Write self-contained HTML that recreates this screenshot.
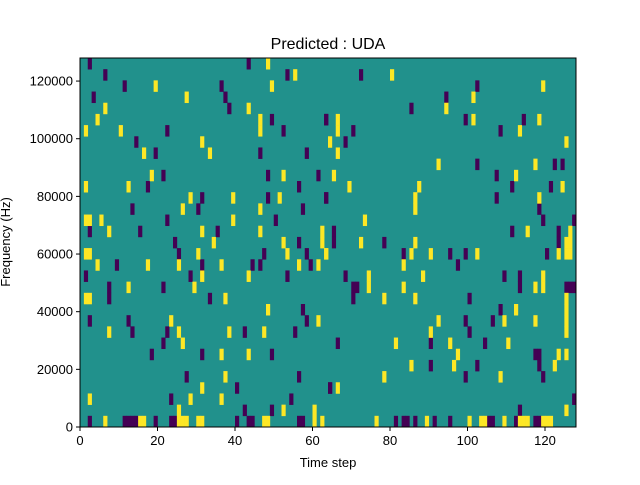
<!DOCTYPE html>
<html><head><meta charset="utf-8"><style>
body{margin:0;background:#fff;width:640px;height:480px;overflow:hidden;font-family:"Liberation Sans",sans-serif}
</style></head><body>
<svg id="chart" width="640" height="480" xmlns="http://www.w3.org/2000/svg" font-family="Liberation Sans, sans-serif">
<rect width="640" height="480" fill="#fff"/>
<text x="328" y="49" font-size="16" text-anchor="middle">Predicted : UDA</text>
<g id="cells"></g>
<rect x="80" y="58" width="496" height="369" fill="none" stroke="#000" stroke-width="1"/>
<g id="axes"></g>
<text x="328" y="467" font-size="13" text-anchor="middle">Time step</text>
<text x="0" y="0" font-size="13" text-anchor="middle" transform="translate(10,242) rotate(-90)">Frequency (Hz)</text>
</svg>
<script>
// cells as [timeStep, rowFromTop]; 33 frequency rows, 128 time steps
const darkCells=[[2,0],[43,0],[6,1],[53,1],[11,2],[36,2],[3,3],[37,3],[38,4],[49,5],[63,5],[22,6],[52,6],[14,7],[19,8],[46,8],[58,8],[21,10],[48,10],[61,10],[17,11],[56,11],[31,12],[48,12],[63,12],[13,13],[30,13],[57,13],[22,14],[50,14],[2,15],[15,15],[35,15],[24,16],[56,16],
[72,1],[102,2],[94,3],[85,4],[63,5],[99,5],[114,5],[70,6],[108,6],[68,7],[102,9],[122,9],[124,9],[107,10],[111,11],[121,11],[63,12],[107,12],[118,13],[119,14],[127,14],[65,15],[111,15],[123,15],[65,16],[78,16],[123,16],
[25,17],[47,17],[58,17],[9,18],[31,18],[44,18],[46,18],[59,18],[1,19],[28,19],[53,19],[7,20],[21,20],[7,21],[33,21],[57,22],[2,23],[12,23],[58,23],[13,24],[22,24],[42,24],[55,24],[21,25],[18,26],[31,26],[49,26],[27,28],[56,28],[40,29],[64,29],[23,30],[54,30],[42,31],[49,31],[2,32],[11,32],[12,32],[13,32],[14,32],[19,32],[23,32],[24,32],[40,32],[43,32],[44,32],[56,32],[57,32],
[83,17],[95,17],[99,17],[120,17],[97,18],[68,19],[109,19],[113,19],[70,20],[71,20],[113,20],[125,20],[126,20],[127,20],[70,21],[100,21],[108,22],[99,23],[106,23],[100,24],[66,25],[90,25],[104,25],[117,26],[118,26],[90,27],[102,27],[118,27],[99,28],[119,28],[64,29],[127,30],[113,31],[81,32],[83,32],[84,32],[86,32],[91,32],[95,32],[105,32],[106,32],[112,32],[117,32],[118,32]];
const brightCells=[[48,0],[55,1],[19,2],[49,2],[27,3],[6,4],[43,4],[4,5],[46,5],[1,6],[10,6],[46,6],[31,7],[64,7],[16,8],[33,8],[18,10],[52,10],[1,11],[12,11],[28,12],[39,12],[51,12],[26,13],[46,13],[1,14],[2,14],[5,14],[39,14],[7,15],[31,15],[46,15],[62,15],[34,16],[52,16],[62,16],
[80,1],[119,2],[101,3],[94,4],[66,5],[101,5],[118,5],[66,6],[113,6],[125,7],[66,8],[92,9],[117,9],[65,10],[112,10],[69,11],[87,11],[124,11],[86,12],[118,12],[86,13],[73,14],[115,15],[126,15],[72,16],[86,16],[125,16],[126,16],
[1,17],[2,17],[30,17],[53,17],[63,17],[4,18],[17,18],[25,18],[36,18],[56,18],[61,18],[31,19],[43,19],[12,20],[29,20],[1,21],[2,21],[37,21],[48,22],[23,23],[61,23],[7,24],[25,24],[38,24],[47,24],[26,25],[36,26],[43,26],[37,28],[31,29],[2,30],[28,30],[36,30],[25,31],[52,31],[60,31],[6,32],[15,32],[16,32],[25,32],[26,32],[27,32],[30,32],[31,32],[47,32],[48,32],[60,32],[62,32],
[63,17],[85,17],[90,17],[102,17],[123,17],[125,17],[126,17],[83,18],[74,19],[88,19],[119,19],[74,20],[83,20],[117,20],[119,20],[78,21],[86,21],[125,21],[112,22],[125,22],[92,23],[109,23],[117,23],[125,23],[90,24],[125,24],[81,25],[95,25],[110,25],[97,26],[123,26],[125,26],[85,27],[96,27],[122,27],[78,28],[108,28],[66,29],[125,31],[76,32],[89,32],[100,32],[103,32],[104,32],[109,32],[113,32],[114,32],[115,32],[119,32],[120,32],[121,32]];
const xTicks=[0,20,40,60,80,100,120];
const yTicks=[0,20000,40000,60000,80000,100000,120000];
const nCols=128, nRows=33, yMax=128000;
const X0=80,X1=576,Y0=58,Y1=427;
const NS='http://www.w3.org/2000/svg';
const xs=v=>X0+v*(X1-X0)/nCols;
const ys=v=>Y1-v*(Y1-Y0)/yMax;
const rowY=r=>Y0+r*(Y1-Y0)/nRows;
const cells=document.getElementById('cells');
function rect(x,y,w,h,fill){const e=document.createElementNS(NS,'rect');e.setAttribute('x',x);e.setAttribute('y',y);e.setAttribute('width',w);e.setAttribute('height',h);e.setAttribute('fill',fill);return e;}
const bg=rect(X0,Y0,X1-X0,Y1-Y0,'#21918c');


cells.appendChild(bg);
function drawCells(list,color,name){list.forEach(([c,r])=>{const x=xs(c),y=rowY(r);const e=rect(x,y,xs(c+1)-x+0.3,rowY(r+1)-y+0.3,color);


cells.appendChild(e);});}
drawCells(darkCells,'#440154','cell-low');
drawCells(brightCells,'#fde725','cell-high');
const axes=document.getElementById('axes');
xTicks.forEach(t=>{const x=xs(t);const l=document.createElementNS(NS,'line');l.setAttribute('x1',x);l.setAttribute('x2',x);l.setAttribute('y1',Y1);l.setAttribute('y2',Y1+4);l.setAttribute('stroke','#000');


axes.appendChild(l);const tx=document.createElementNS(NS,'text');tx.setAttribute('x',x);tx.setAttribute('y',Y1+18);tx.setAttribute('font-size','13');tx.setAttribute('text-anchor','middle');tx.textContent=t;


axes.appendChild(tx);});
yTicks.forEach(t=>{const y=ys(t);const l=document.createElementNS(NS,'line');l.setAttribute('x1',X0-4);l.setAttribute('x2',X0);l.setAttribute('y1',y);l.setAttribute('y2',y);l.setAttribute('stroke','#000');


axes.appendChild(l);const tx=document.createElementNS(NS,'text');tx.setAttribute('x',X0-7);tx.setAttribute('y',y+4.5);tx.setAttribute('font-size','13');tx.setAttribute('text-anchor','end');tx.textContent=t;


axes.appendChild(tx);});
</script>
</body></html>
